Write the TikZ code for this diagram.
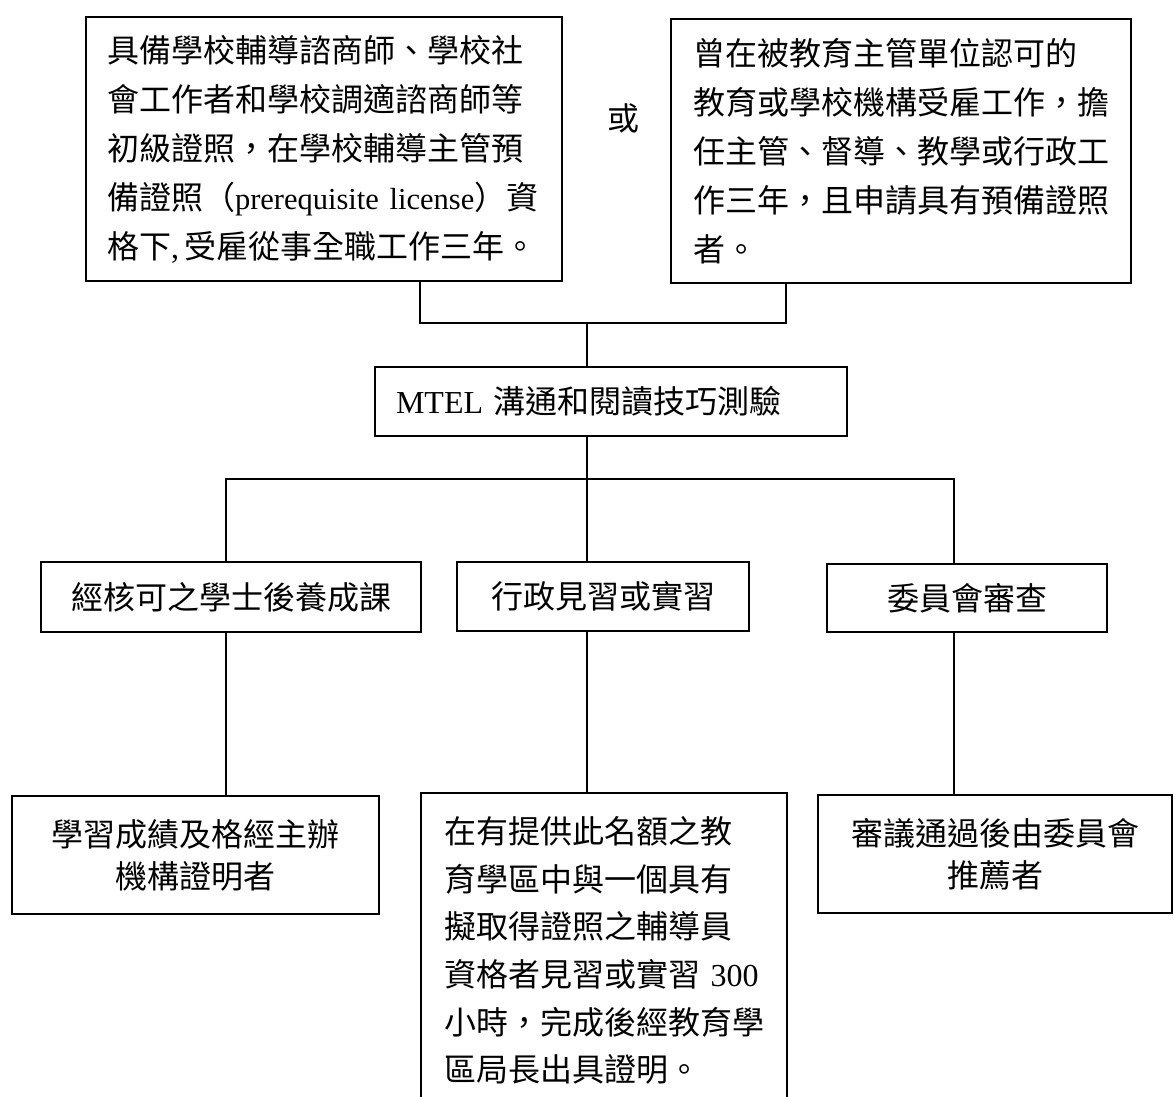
\documentclass[tikz,border=0pt]{standalone}
\usepackage{fontspec}
\setmainfont{Noto Sans CJK TC}
\newfontfamily\latinserif{Liberation Serif}
\newcommand{\LatinT}[1]{{\latinserif #1}}
\begin{document}
\begin{tikzpicture}[x=1pt,y=-1pt,
  every node/.style={font=\fontsize{32}{49}\selectfont},
  box/.style={draw, line width=1.6pt, inner ysep=0pt},
  link/.style={line width=1.6pt}]
\useasboundingbox (0,0) rectangle (1175,1096);
\fill[white] (0,0) rectangle (1175,1096);
\clip (0,0) rectangle (1175,1096);
% top row
\node[box, minimum width=476, minimum height=264, inner xsep=21, text width=434, align=left] (A) at (324,149)
  {\mbox{具備學校輔導諮商師、學校社}\\\mbox{會工作者和學校調適諮商師等}\\\mbox{初級證照，在學校輔導主管預}\\\mbox{備證照（\LatinT{\fontsize{30.5}{49}\selectfont prerequisite license}）資}\\\mbox{格下\LatinT{,\,}受雇從事全職工作三年。}};
\node (or) at (623,118) {或};
\node[box, minimum width=460, minimum height=264, inner xsep=22, text width=416, align=left] (B) at (901,151)
  {\mbox{曾在被教育主管單位認可的}\\\mbox{教育或學校機構受雇工作，擔}\\\mbox{任主管、督導、教學或行政工}\\\mbox{作三年，且申請具有預備證照}\\\mbox{者。}};
% middle
\node[box, minimum width=472, minimum height=69, inner xsep=21, text width=430, align=left] (M) at (611,401.5)
  {\mbox{\LatinT{MTEL }溝通和閱讀技巧測驗}};
% second row
\node[box, minimum width=380, minimum height=70] (S1) at (231,597) {經核可之學士後養成課};
\node[box, minimum width=292, minimum height=69] (S2) at (603,596.5) {行政見習或實習};
\node[box, minimum width=280, minimum height=68] (S3) at (967,598) {委員會審查};
% third row
\node[box, minimum width=367, minimum height=118, align=center, font=\fontsize{32}{42}\selectfont] (T1) at (195.5,855)
  {學習成績及格經主辦\\機構證明者};
\node[box, minimum width=366, minimum height=315, inner xsep=23, text width=320, align=left, font=\fontsize{32}{47.6}\selectfont] (T2) at (604,950.5)
  {\mbox{在有提供此名額之教}\\\mbox{育學區中與一個具有}\\\mbox{擬取得證照之輔導員}\\\mbox{資格者見習或實習\LatinT{ 300}}\\\mbox{小時，完成後經教育學}\\\mbox{區局長出具證明。}};
\node[box, minimum width=354, minimum height=118, align=center, font=\fontsize{32}{42}\selectfont] (T3) at (995,854)
  {審議通過後由委員會\\推薦者};
% connectors
\coordinate (jA) at (420,323);
\coordinate (jB) at (786,323);
\coordinate (jM) at (587,323);
\draw[link] (jA |- A.south) -- (jA) -- (jB) -- (jB |- B.south);
\draw[link] (jM) -- (jM |- M.north);
\coordinate (hM) at (587,479);
\coordinate (hL) at (226,479);
\coordinate (hR) at (954,479);
\draw[link] (hM |- M.south) -- (hM);
\draw[link] (hL |- S1.north) -- (hL) -- (hR) -- (hR |- S3.north);
\draw[link] (hM) -- (hM |- S2.north);
\draw[link] (hL |- S1.south) -- (hL |- T1.north);
\draw[link] (hM |- S2.south) -- (hM |- T2.north);
\draw[link] (hR |- S3.south) -- (hR |- T3.north);
\end{tikzpicture}
\end{document}
